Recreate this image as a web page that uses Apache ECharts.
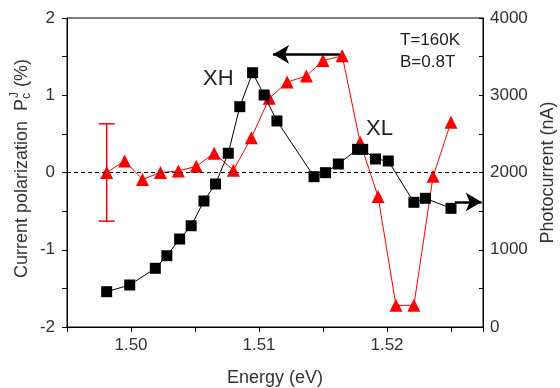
<!DOCTYPE html>
<html>
<head>
<meta charset="utf-8">
<script src="https://cdn.jsdelivr.net/npm/echarts@6/dist/echarts.min.js"></script>
<style>html,body{margin:0;padding:0;background:#fff}#c{width:560px;height:388px}</style>
</head>
<body>
<div id="c"></div>
<script>
// Photocurrent (right axis, black squares)
var currentEnergy = [1.4981, 1.4999, 1.5019, 1.5028, 1.5038, 1.5047, 1.5057, 1.5066, 1.5076, 1.5085, 1.5095, 1.5104, 1.5114, 1.5143, 1.5152, 1.5162, 1.5177, 1.5181, 1.5191, 1.5201, 1.5221, 1.5230, 1.5250];
var currentValues = [457, 544, 760, 923, 1139, 1311, 1631, 1851, 2249, 2852, 3292, 3003, 2667, 1946, 1998, 2110, 2300, 2300, 2175, 2149, 1614, 1666, 1536];
// Current polarization (left axis, red triangles)
var polEnergy = [1.4981, 1.4995, 1.5009, 1.5023, 1.5037, 1.5051, 1.5065, 1.5080, 1.5094, 1.5108, 1.5122, 1.5137, 1.5150, 1.5165, 1.5179, 1.5193, 1.5207, 1.5221, 1.5236, 1.5250];
var polValues = [0.00, 0.15, -0.09, 0.00, 0.02, 0.08, 0.25, 0.03, 0.45, 0.96, 1.17, 1.25, 1.45, 1.51, 0.39, -0.31, -1.72, -1.72, -0.05, 0.65];
// error bar on first polarization point: [energy, value, half-width]
var polError = [[1.4981, 0.00, 0.63]];
// arrows (data coordinates): polarization arrow points left, photocurrent arrow points right
var polArrow = [[1.5163, 1.53], [1.5111, 1.53]];
var currentArrow = [[1.5253, 1618], [1.5274, 1618]];
var xTicks = [1.50, 1.51, 1.52];
var leftTicks = [-2, -1, 0, 1, 2];
var rightTicks = [0, 1000, 2000, 3000, 4000];

var FONT = '"Liberation Sans", Arial, sans-serif';
var chart = echarts.init(document.getElementById('c'), null, {renderer: 'canvas'});

var pairs = function (xs, ys) { return xs.map(function (x, i) { return [x, ys[i]]; }); };

var option = {
  animation: false,
  backgroundColor: '#fff',
  textStyle: {fontFamily: FONT},
  grid: {left: 67, right: 77, top: 18, bottom: 61, containLabel: false, outerBoundsMode: 'none',
    show: true, borderColor: '#000', borderWidth: 1, backgroundColor: 'transparent'},
  xAxis: {
    type: 'value', min: 1.495, max: 1.5275, interval: 0.005,
    axisLine: {onZero: false, lineStyle: {color: '#000', width: 1}},
    axisTick: {inside: false, length: 5, lineStyle: {color: '#000'}},
    splitLine: {show: false},
    axisLabel: {
      color: '#333', fontSize: 17, fontFamily: FONT, margin: 10,
      formatter: function (v) {
        for (var i = 0; i < xTicks.length; i++) if (Math.abs(v - xTicks[i]) < 1e-6) return xTicks[i].toFixed(2);
        return '';
      }
    },
    name: 'Energy (eV)', nameLocation: 'middle', nameGap: 42,
    nameTextStyle: {color: '#333', fontSize: 18, fontFamily: FONT}
  },
  yAxis: [{
    type: 'value', min: -2, max: 2, interval: 1, position: 'left',
    axisLine: {show: true, onZero: false, lineStyle: {color: '#000'}},
    axisTick: {show: true, inside: false, length: 5, lineStyle: {color: '#000'}},
    minorTick: {show: true, splitNumber: 2, length: 5, lineStyle: {color: '#000'}},
    splitLine: {show: false},
    axisLabel: {color: '#333', fontSize: 17, fontFamily: FONT, margin: 12,
      formatter: function (v) { return leftTicks.indexOf(v) >= 0 ? String(v) : ''; }}
  }, {
    type: 'value', min: 0, max: 4000, interval: 1000, position: 'right',
    axisLine: {show: true, onZero: false, lineStyle: {color: '#000'}},
    axisTick: {show: true, inside: true, length: 4, lineStyle: {color: '#000'}},
    minorTick: {show: true, splitNumber: 2, length: 4, lineStyle: {color: '#000'}},
    splitLine: {show: false},
    axisLabel: {color: '#333', fontSize: 17, fontFamily: FONT, margin: 7,
      formatter: function (v) { return rightTicks.indexOf(v) >= 0 ? String(v) : ''; }},
    name: 'Photocurrent (nA)', nameLocation: 'middle', nameRotate: 90, nameGap: 46,
    nameTextStyle: {color: '#333', fontSize: 18, fontFamily: FONT}
  }],
  series: [{
    type: 'line', name: 'Photocurrent', yAxisIndex: 1,
    data: pairs(currentEnergy, currentValues),
    symbol: 'rect', symbolSize: 11, showAllSymbol: true,
    lineStyle: {color: '#000', width: 1}, itemStyle: {color: '#000'},
    z: 5,
    markLine: {
      silent: true, symbol: ['none', 'arrow'], symbolSize: [14, 16], label: {show: false},
      lineStyle: {color: '#000', width: 2.5, type: 'solid'},
      data: [[{coord: currentArrow[0]}, {coord: currentArrow[1]}]]
    }
  }, {
    type: 'line', name: 'Polarization', yAxisIndex: 0,
    data: pairs(polEnergy, polValues),
    symbol: 'triangle', symbolSize: 13, showAllSymbol: true,
    lineStyle: {color: '#ff0000', width: 1}, itemStyle: {color: '#ff0000'},
    z: 4,
    markLine: {
      silent: true, label: {show: false},
      data: [
        [{coord: [1.495, 0], symbol: 'none', lineStyle: {color: '#000', width: 1, type: [4, 3]}},
         {coord: [1.5275, 0], symbol: 'none'}],
        [{coord: polArrow[0], symbol: 'none', lineStyle: {color: '#000', width: 2.5, type: 'solid'}},
         {coord: polArrow[1], symbol: 'arrow', symbolSize: [14, 16]}]
      ]
    }
  }, {
    type: 'custom', name: 'err', yAxisIndex: 0, z: 2,
    data: polError,
    renderItem: function (params, api) {
      var x = api.value(0), y = api.value(1), e = api.value(2);
      var top = api.coord([x, y + e]), bot = api.coord([x, y - e]);
      var w = 8;
      var st = {stroke: '#ff0000', lineWidth: 1.5};
      return {type: 'group', children: [
        {type: 'line', shape: {x1: top[0], y1: top[1], x2: bot[0], y2: bot[1]}, style: st},
        {type: 'line', shape: {x1: top[0] - w, y1: top[1], x2: top[0] + w, y2: top[1]}, style: st},
        {type: 'line', shape: {x1: bot[0] - w, y1: bot[1], x2: bot[0] + w, y2: bot[1]}, style: st}
      ]};
    }
  }],
  graphic: [
    {type: 'text', left: 203, top: 68, style: {text: 'XH', font: '22px ' + FONT, fill: '#222'}},
    {type: 'text', left: 366, top: 118, style: {text: 'XL', font: '22px ' + FONT, fill: '#222'}},
    {type: 'text', left: 400, top: 32, style: {text: 'T=160K', font: '17px ' + FONT, fill: '#222'}},
    {type: 'text', left: 400, top: 54, style: {text: 'B=0.8T', font: '17px ' + FONT, fill: '#222'}},
    {type: 'group', x: 22, y: 174, rotation: Math.PI / 2, children: [
      {type: 'text', x: -104, y: 0, style: {text: 'Current polarization  P', font: '18px ' + FONT, fill: '#333', textAlign: 'left', textVerticalAlign: 'middle'}},
      {type: 'text', x: 75, y: 5, style: {text: 'c', font: '12px ' + FONT, fill: '#333', textAlign: 'left', textVerticalAlign: 'middle'}},
      {type: 'text', x: 76, y: -7, style: {text: 'J', font: '12px ' + FONT, fill: '#333', textAlign: 'left', textVerticalAlign: 'middle'}},
      {type: 'text', x: 82, y: 0, style: {text: ' (%)', font: '18px ' + FONT, fill: '#333', textAlign: 'left', textVerticalAlign: 'middle'}}
    ]}
  ]
};
chart.setOption(option);
</script>
</body>
</html>
